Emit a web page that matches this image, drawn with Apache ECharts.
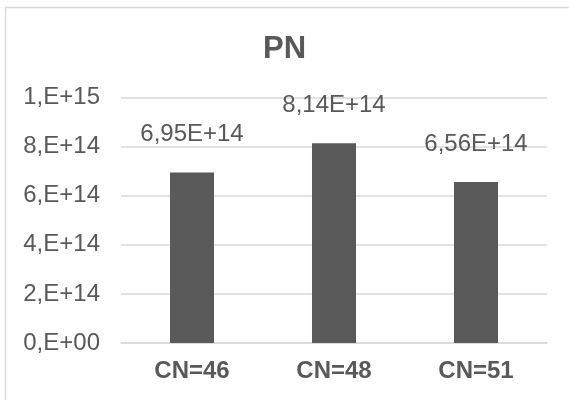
<!DOCTYPE html>
<html>
<head>
<meta charset="utf-8">
<script src="https://cdn.jsdelivr.net/npm/echarts@6/dist/echarts.min.js"></script>
<style>
  html, body { margin: 0; padding: 0; background: #fff; }
  #chart { width: 569px; height: 400px; }
</style>
</head>
<body>
<div id="chart"></div>
<script>
// Chart content
const chartTitle = 'PN';
const categories = ['CN=46', 'CN=48', 'CN=51'];
const pnValues = [6.95e14, 8.14e14, 6.56e14];
const tickValues = [0, 2e14, 4e14, 6e14, 8e14, 1e15];
const tickLabels = ['0,E+00', '2,E+14', '4,E+14', '6,E+14', '8,E+14', '1,E+15'];

// "6,95E+14" style: comma decimal, two decimals, two-digit exponent
function sciLabel(v) {
  const s = v.toExponential(2).split('e');
  const exp = parseInt(s[1], 10);
  const sign = exp < 0 ? '-' : '+';
  const e = String(Math.abs(exp)).padStart(2, '0');
  return s[0].replace('.', ',') + 'E' + sign + e;
}

const FONT = '"Liberation Sans", Arial, sans-serif';
const TXT = '#595959';

const chart = echarts.init(document.getElementById('chart'), null, { renderer: 'canvas' });
chart.setOption({
  animation: false,
  backgroundColor: '#ffffff',
  graphic: [{
    type: 'rect',
    shape: { x: 5.5, y: 7.5, width: 620, height: 450 },
    style: { fill: 'none', stroke: '#d9d9d9', lineWidth: 1.5 },
    silent: true
  }],
  title: {
    text: chartTitle,
    left: 'center',
    top: 26,
    textStyle: { fontFamily: FONT, fontSize: 31, fontWeight: 'bold', color: TXT, lineHeight: 36 }
  },
  grid: { left: 121, right: 22, top: 97.5, bottom: 57, containLabel: false },
  xAxis: {
    type: 'category',
    data: categories,
    axisLine: { show: true, lineStyle: { color: '#d9d9d9', width: 1.5 } },
    axisTick: { show: false },
    axisLabel: {
      margin: 16,
      fontFamily: FONT, fontSize: 24, fontWeight: 'bold', color: TXT
    }
  },
  yAxis: {
    type: 'value',
    min: 0,
    max: 1e15,
    interval: 2e14,
    axisLine: { show: false },
    axisTick: { show: false },
    splitLine: { lineStyle: { color: '#d9d9d9', width: 1.5 } },
    axisLabel: {
      margin: 21,
      fontFamily: FONT, fontSize: 24, color: TXT,
      formatter: function (v) {
        const i = tickValues.findIndex(t => Math.abs(t - v) < 1);
        return i >= 0 ? tickLabels[i] : sciLabel(v);
      }
    }
  },
  series: [{
    type: 'bar',
    data: pnValues,
    barWidth: '31%',
    itemStyle: { color: '#595959' },
    label: {
      show: true,
      position: 'top',
      distance: 26,
      fontFamily: FONT, fontSize: 24, color: TXT,
      formatter: p => sciLabel(p.value)
    }
  }]
});
</script>
</body>
</html>
